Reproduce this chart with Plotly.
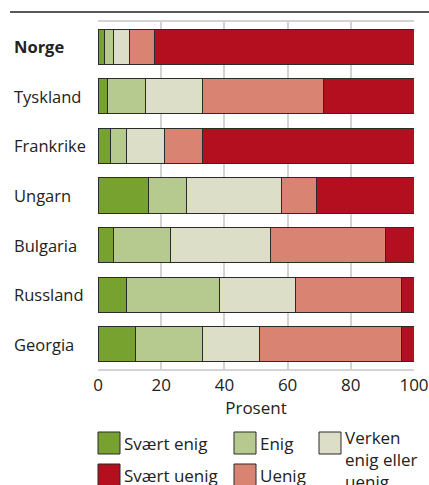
import plotly.graph_objects as go

countries = ["Norge", "Tyskland", "Frankrike", "Ungarn", "Bulgaria", "Russland", "Georgia"]
series_names = ["Svært enig", "Enig", "Verken enig eller uenig", "Uenig", "Svært uenig"]
svaert_enig = [2, 3, 4, 16, 5, 9, 12]
enig = [3, 12, 5, 12, 18, 29.5, 21]
verken = [5, 18, 12, 30, 31.5, 24, 18]
uenig = [8, 38.5, 12, 11, 36.5, 33.5, 45]
svaert_uenig = [82, 28.5, 67, 31, 9, 4, 4]
x_ticks = [0, 20, 40, 60, 80, 100]
legend_labels = ["Svært enig", "Enig", "Verken<br>enig eller<br>uenig", "Svært uenig", "Uenig"]

colors = ["#78a22f", "#b6ca8f", "#dcdec8", "#d98472", "#b30f1e"]
series_values = [svaert_enig, enig, verken, uenig, svaert_uenig]

W, H = 429, 485
L, R, T, B = 98, 15, 22, 116
PW, PH = W - L - R, H - T - B

def px(x):
    return (x - L) / PW

def py(y):
    return (H - B - y) / PH

FONT = "Open Sans"
fig = go.Figure()
for name, vals, col in zip(series_names, series_values, colors):
    fig.add_trace(go.Bar(
        y=countries, x=vals, name=name, orientation="h",
        marker=dict(color=col, line=dict(color="#2b2b2b", width=1)),
        showlegend=False, hoverinfo="x+y+name",
    ))

shapes = []
annotations = []
# white separators across gridlines between categories
for i in range(len(countries) - 1):
    shapes.append(dict(type="line", xref="x", yref="y", x0=0, x1=100,
                       y0=i + 0.5, y1=i + 0.5, line=dict(color="white", width=3),
                       layer="below"))
# category labels (left aligned)
for c in countries:
    txt = "<b>%s</b>" % c if c == "Norge" else c
    annotations.append(dict(text=txt, xref="paper", yref="y", x=px(12), y=c,
                            xanchor="left", yanchor="middle", showarrow=False,
                            font=dict(family=FONT, size=16.5, color="#222")))
# rule at top
shapes.append(dict(type="line", xref="paper", yref="paper", x0=px(10), x1=px(429),
                   y0=py(12), y1=py(12), line=dict(color="#222", width=1.5)))

# legend (manual grid)
leg_color_map = dict(zip(series_names, colors))
leg_items = [
    ("Svært enig", legend_labels[0], 98, 432),
    ("Enig", legend_labels[1], 234, 432),
    ("Verken enig eller uenig", legend_labels[2], 319, 432),
    ("Svært uenig", legend_labels[3], 98, 464),
    ("Uenig", legend_labels[4], 234, 464),
]
for key, lab, x0, y0 in leg_items:
    shapes.append(dict(type="rect", xref="paper", yref="paper",
                       x0=px(x0), x1=px(x0 + 22), y0=py(y0), y1=py(y0 + 22),
                       fillcolor=leg_color_map[key], line=dict(color="#2b2b2b", width=1)))
    if "<br>" in lab:
        annotations.append(dict(text=lab, xref="paper", yref="paper", x=px(x0 + 24), y=py(424),
                                xanchor="left", yanchor="top", align="left", showarrow=False,
                                font=dict(family=FONT, size=17, color="#222")))
    else:
        annotations.append(dict(text=lab, xref="paper", yref="paper", x=px(x0 + 24), y=py(y0 + 11),
                                xanchor="left", yanchor="middle", showarrow=False,
                                font=dict(family=FONT, size=17, color="#222")))

fig.update_layout(
    width=W, height=H, autosize=False, barmode="stack", bargap=0.29,
    margin=dict(l=L, r=R, t=T, b=B, autoexpand=False),
    paper_bgcolor="white", plot_bgcolor="white",
    font=dict(family=FONT, size=17, color="#222"),
    shapes=shapes, annotations=annotations,
    xaxis=dict(range=[0, 100], tickvals=x_ticks, showgrid=True, gridcolor="#d3d3d3",
               gridwidth=2, zeroline=False, showline=True, linecolor="#d3d3d3",
               linewidth=2, mirror=True, ticks="", ticklabelstandoff=0, automargin=False,
               title=dict(text="Prosent", standoff=2, font=dict(size=17)),
               tickfont=dict(size=17)),
    yaxis=dict(categoryorder="array", categoryarray=countries, autorange="reversed",
               showticklabels=False, showgrid=False, zeroline=False, ticks="", automargin=False),
)

fig.write_html("out.html", config={"displayModeBar": False},
               post_script="document.body.style.margin='0';document.body.style.overflow='hidden';")
